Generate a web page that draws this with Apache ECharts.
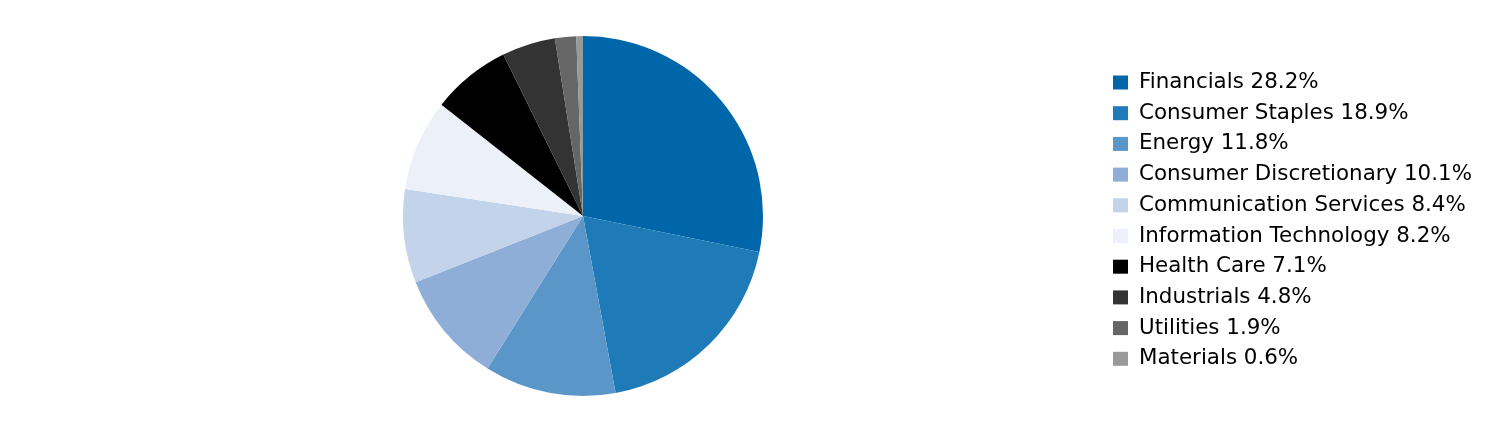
<!DOCTYPE html>
<html><head><meta charset="utf-8">
<script src="https://cdn.jsdelivr.net/npm/echarts@6/dist/echarts.min.js"></script>
<style>html,body{margin:0;padding:0;background:#fff}#c{width:1512px;height:444px}</style>
</head><body><div id="c"></div>
<script>
const categories = ["Financials","Consumer Staples","Energy","Consumer Discretionary","Communication Services","Information Technology","Health Care","Industrials","Utilities","Materials"];
const values = [28.2,18.9,11.8,10.1,8.4,8.2,7.1,4.8,1.9,0.6];
const colors = ["#0066AA","#1F7BB8","#5B96C8","#8EAED8","#C2D3EA","#ECF1F9","#000000","#333333","#666666","#999999"];
const data = categories.map((n,i)=>({name:n,value:values[i]}));
const chart = echarts.init(document.getElementById('c'),null,{renderer:'canvas'});
chart.setOption({
  animation:false,
  color:colors,
  legend:{
    orient:'vertical', left:1108, top:67,
    itemWidth:15, itemHeight:14, itemGap:9.7,
    icon:'rect',
    textStyle:{fontFamily:'DejaVu Sans', fontSize:21.4, color:'#000', lineHeight:20, padding:[0,0,0,6]},
    formatter: name => name + ' ' + values[categories.indexOf(name)].toFixed(1) + '%',
    selectedMode:false
  },
  series:[{
    type:'pie', center:[583,216], radius:[0,180], startAngle:90, clockwise:true,
    label:{show:false}, labelLine:{show:false},
    itemStyle:{borderWidth:0},
    emphasis:{disabled:true},
    data:data
  }]
});
</script></body></html>
